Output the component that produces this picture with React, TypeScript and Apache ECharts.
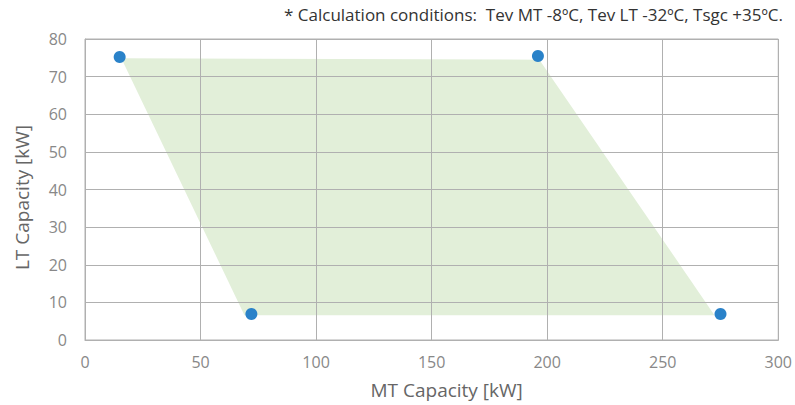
import React, { useEffect, useRef } from "react";
import * as echarts from "echarts";

const mtCapacity = [15, 196, 275, 72];
const ltCapacity = [75.2, 75.5, 6.9, 6.9];
const areaMT = [15.7, 196.6, 272.4, 69];
const areaLT = [74.9, 74.5, 6.6, 6.6];
const xTicks = [0, 50, 100, 150, 200, 250, 300];
const yTicks = [0, 10, 20, 30, 40, 50, 60, 70, 80];
const note = "* Calculation conditions:  Tev MT -8ºC, Tev LT -32ºC, Tsgc +35ºC.";

export default function App() {
  const ref = useRef<HTMLDivElement>(null);
  useEffect(() => {
    if (!ref.current) return;
    const chart = echarts.init(ref.current, undefined, { renderer: "svg" });
    const points = mtCapacity.map((x, i) => [x, ltCapacity[i]]);
    const area = areaMT.map((x, i) => [x, areaLT[i]]);
    const font = "'Open Sans', 'Noto Sans', sans-serif";
    chart.setOption({
      animation: false,
      graphic: [
        {
          type: "text",
          right: 12,
          top: 6,
          style: { text: note, font: `17px ${font}`, fill: "#333" },
        },
      ],
      grid: { left: 85, right: 14, top: 39, bottom: 65, show: true, borderColor: "#b0b0b0", borderWidth: 1 },
      xAxis: {
        type: "value",
        z: 3,
        min: xTicks[0],
        max: xTicks[xTicks.length - 1],
        interval: 50,
        name: "MT Capacity [kW]",
        nameLocation: "middle",
        nameGap: 40,
        nameTextStyle: { fontSize: 19, color: "#666", fontFamily: font, padding: [0, 0, 0, 30] },
        axisLine: { show: true, lineStyle: { color: "#b0b0b0" } },
        axisTick: { show: false },
        axisLabel: { fontSize: 16, color: "#888", margin: 14, fontFamily: font },
        splitLine: { show: true, lineStyle: { color: "#b0b0b0", width: 1 } },
      },
      yAxis: {
        type: "value",
        z: 3,
        min: yTicks[0],
        max: yTicks[yTicks.length - 1],
        interval: 10,
        name: "LT Capacity [kW]",
        nameLocation: "middle",
        nameGap: 54,
        nameRotate: 90,
        nameTextStyle: { fontSize: 19, color: "#666", fontFamily: font, padding: [0, 16, 0, 0] },
        axisLine: { show: true, lineStyle: { color: "#b0b0b0" } },
        axisTick: { show: false },
        axisLabel: { fontSize: 16, color: "#888", margin: 18, fontFamily: font },
        splitLine: { show: true, lineStyle: { color: "#b0b0b0", width: 1 } },
      },
      series: [
        {
          type: "custom",
          silent: true,
          data: [0],
          renderItem: (_params: any, api: any) => ({
            type: "polygon",
            shape: { points: area.map((p) => api.coord(p)) },
            style: { fill: "#e2efd9", stroke: "none" },
          }),
          z: 1,
        },
        {
          type: "scatter",
          data: points,
          symbolSize: 12,
          itemStyle: { color: "#2a82c9", opacity: 1 },
          z: 5,
        },
      ],
    });
    return () => chart.dispose();
  }, []);
  return <div ref={ref} style={{ position: "absolute", left: 0, top: 0, width: 795, height: 405 }} />;
}
